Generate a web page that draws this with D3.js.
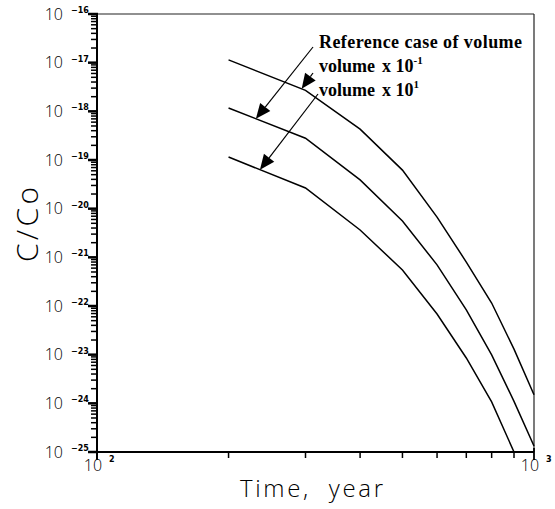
<!DOCTYPE html>
<html><head><meta charset="utf-8">
<script src="https://cdn.jsdelivr.net/npm/d3@7"></script>
<style>body{margin:0;background:#fff}svg{display:block}</style>
</head><body>
<script>
// ---- data ----
const timeYears = [200, 300, 400, 500, 600, 700, 800, 900, 1000];
const volumeX10m1 = [1.14e-17, 2.7e-18, 4.3e-19, 6.2e-20, 6.7e-21, 8.0e-22, 1.15e-22, 1.3e-23, 1.5e-24];
const referenceCase = [1.17e-18, 2.8e-19, 3.9e-20, 5.6e-21, 7.0e-22, 8.3e-23, 9.9e-24, 1.1e-24, 1.33e-25];
const volumeX10p1 = [1.15e-19, 2.66e-20, 3.65e-21, 5.5e-22, 6.85e-23, 8.55e-24, 1.07e-24, 1.0e-25];
const yTickExponents = [-16, -17, -18, -19, -20, -21, -22, -23, -24, -25];
const xTickExponents = [2, 3];
const annotationWords = ["Reference case of volume", "volume", "volume"];
const annotationFactors = ["", "x 10", "x 10"];
const annotationSups = ["", "-1", "1"];
const arrowTipTimes = [231, 294, 236];

const W = 555, H = 509;
const m = {l: 97, r: 534, t: 14, b: 452};
const svg = d3.select("body").append("svg").attr("width", W).attr("height", H);

const x = d3.scaleLog().domain([1e2, 1e3]).range([m.l, m.r]);
const y = d3.scaleLog().domain([1e-25, 1e-16]).range([m.b, m.t]);

// frame (top & right)
svg.append("line").attr("x1", m.l).attr("x2", m.r).attr("y1", m.t).attr("y2", m.t)
  .attr("stroke", "#222").attr("stroke-width", 1.2);
svg.append("line").attr("x1", m.r).attr("x2", m.r).attr("y1", m.t).attr("y2", m.b)
  .attr("stroke", "#222").attr("stroke-width", 1.2);

// y axis ticks
const yMajor = yTickExponents.map(e => Math.pow(10, e));
const yMinor = [];
for (let e = -25; e < -16; e++) for (let k = 2; k <= 9; k++) yMinor.push(k * Math.pow(10, e));
const gy = svg.append("g").attr("stroke", "#000");
yMinor.forEach(v => {
  gy.append("line").attr("x1", m.l - 6).attr("x2", m.l + 1).attr("y1", y(v)).attr("y2", y(v))
    .attr("stroke-width", 1.5);
});
yMajor.forEach(v => {
  gy.append("line").attr("x1", m.l - 9).attr("x2", m.l + 1).attr("y1", y(v)).attr("y2", y(v))
    .attr("stroke-width", 2.5);
});
gy.append("line").attr("x1", m.l).attr("x2", m.l).attr("y1", m.t - 1).attr("y2", m.b + 7)
  .attr("stroke-width", 2);

// y tick labels
const ylab = svg.append("g");
yTickExponents.forEach(e => {
  const yy = y(Math.pow(10, e));
  ylab.append("text").attr("x", 63).attr("y", yy + 5.5).attr("text-anchor", "end")
    .attr("font-family", "'Open Sans', 'DejaVu Sans', sans-serif").attr("font-weight", 300)
    .attr("font-size", 16).text("10");
  ylab.append("text").attr("x", 71).attr("y", yy - 1).attr("text-anchor", "start")
    .attr("font-family", "'DejaVu Sans', sans-serif").attr("font-weight", "bold")
    .attr("font-size", 8).text("\u2212" + Math.abs(e));
});

// x axis
const xMajor = xTickExponents.map(e => Math.pow(10, e));
const xMinor = [200, 300, 400, 500, 600, 700, 800, 900];
const gx = svg.append("g").attr("stroke", "#000");
gx.append("line").attr("x1", m.l).attr("x2", m.r).attr("y1", m.b).attr("y2", m.b)
  .attr("stroke-width", 2);
xMinor.forEach(v => {
  gx.append("line").attr("x1", x(v)).attr("x2", x(v)).attr("y1", m.b - 1).attr("y2", m.b + 6)
    .attr("stroke-width", 1.5);
});
xMajor.forEach(v => {
  gx.append("line").attr("x1", x(v)).attr("x2", x(v)).attr("y1", m.b - 4).attr("y2", m.b + 8)
    .attr("stroke-width", 1.8);
});

// x tick labels
xTickExponents.forEach(e => {
  const xx = x(Math.pow(10, e));
  svg.append("text").attr("x", xx - 4).attr("y", 471).attr("text-anchor", "middle")
    .attr("font-family", "'Open Sans', 'DejaVu Sans', sans-serif").attr("font-weight", 300)
    .attr("font-size", 16).text("10");
  svg.append("text").attr("x", xx + 12).attr("y", 462)
    .attr("font-family", "'DejaVu Sans', sans-serif").attr("font-weight", "bold")
    .attr("font-size", 8).text(String(e));
});

// axis titles
svg.append("text").attr("x", 240).attr("y", 497)
  .attr("font-family", "'Open Sans', 'DejaVu Sans', sans-serif").attr("font-weight", 300)
  .attr("font-size", 24).attr("textLength", 143).attr("lengthAdjust", "spacing")
  .text("Time,\u00a0 year");
svg.append("text").attr("transform", "translate(38,262) rotate(-90)")
  .attr("font-family", "'Open Sans', 'DejaVu Sans', sans-serif").attr("font-weight", 300)
  .attr("font-size", 30).attr("textLength", 75).attr("lengthAdjust", "spacing")
  .text("C/Co");

// curves
const series = [volumeX10m1, referenceCase, volumeX10p1];
const line = d3.line().x(d => x(d[0])).y(d => y(d[1]));
series.forEach(vals => {
  const pts = vals.map((v, i) => [timeYears[i], v]);
  svg.append("path").attr("d", line(pts)).attr("fill", "none")
    .attr("stroke", "#000").attr("stroke-width", 1.5);
});

// annotations
const ann = svg.append("g").attr("font-family", "'Liberation Serif', 'Times New Roman', serif")
  .attr("font-weight", "bold").attr("font-size", 18);
annotationWords.forEach((t, i) => {
  const by = 48 + i * 24;
  if (i === 0) {
    ann.append("text").attr("x", 319).attr("y", by).attr("textLength", 203)
      .attr("lengthAdjust", "spacing").text(t);
  } else {
    ann.append("text").attr("x", 319).attr("y", by).text(t);
    const tx = ann.append("text").attr("x", 382).attr("y", by);
    tx.append("tspan").text(annotationFactors[i]);
    tx.append("tspan").attr("dy", -8).attr("font-size", 11).text(annotationSups[i]);
  }
});

function interp(vals, t) {
  const lt = Math.log10(t);
  for (let i = 0; i < vals.length - 1; i++) {
    const a = Math.log10(timeYears[i]), b = Math.log10(timeYears[i + 1]);
    if (lt >= a && lt <= b) {
      const f = (lt - a) / (b - a);
      return Math.pow(10, Math.log10(vals[i]) + f * (Math.log10(vals[i + 1]) - Math.log10(vals[i])));
    }
  }
  return vals[0];
}
const arrowSeries = [referenceCase, volumeX10m1, volumeX10p1];
const arrowStarts = [[313, 47], [313, 73], [318, 94]];
arrowSeries.forEach((vals, i) => {
  const tx = x(arrowTipTimes[i]), ty = y(interp(vals, arrowTipTimes[i]));
  const [sx, sy] = arrowStarts[i];
  const ang = Math.atan2(ty - sy, tx - sx);
  const L = 15, Wd = 6.5;
  const bx = tx - L * Math.cos(ang), by = ty - L * Math.sin(ang);
  svg.append("line").attr("x1", sx).attr("y1", sy).attr("x2", bx).attr("y2", by)
    .attr("stroke", "#000").attr("stroke-width", 1.2);
  const px = -Math.sin(ang) * Wd, py = Math.cos(ang) * Wd;
  svg.append("path").attr("d", `M${tx},${ty}L${bx + px},${by + py}L${bx - px},${by - py}Z`)
    .attr("fill", "#000");
});
</script>
</body></html>
